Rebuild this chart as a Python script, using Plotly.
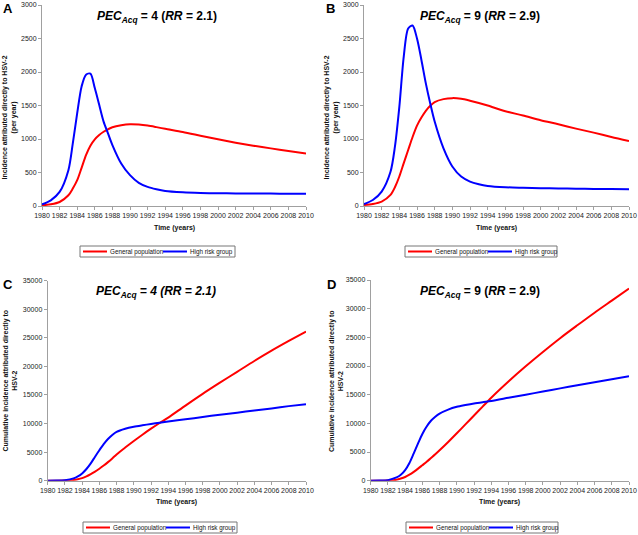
import plotly.graph_objects as go

W, H = 638, 535

years = [1980, 1981, 1982, 1983, 1983.5, 1984, 1984.5, 1985, 1985.5, 1986,
         1986.5, 1987, 1987.5, 1988, 1989, 1990, 1991, 1992, 1993, 1994,
         1996, 1998, 2000, 2002, 2004, 2006, 2008, 2010]

# A: incidence per year, PEC_Acq = 4
a_general = [10, 25, 60, 160, 260, 385, 570, 760, 900, 995, 1060, 1108, 1145, 1175,
             1205, 1220, 1215, 1200, 1177, 1152, 1105, 1050, 995, 945, 900, 860, 820, 782]
a_highrisk = [25, 85, 210, 535, 935, 1385, 1785, 1960, 1975, 1760, 1510, 1260, 1085, 910,
              635, 460, 345, 285, 250, 225, 205, 195, 190, 188, 186, 185, 184, 183]

# B: incidence per year, PEC_Acq = 9
b_general = [15, 30, 65, 165, 280, 440, 640, 835, 1030, 1200, 1320, 1420, 1495, 1550,
             1595, 1610, 1600, 1572, 1538, 1500, 1415, 1350, 1280, 1220, 1155, 1095, 1030, 970]
b_highrisk = [30, 90, 215, 510, 885, 1480, 2230, 2650, 2695, 2500, 2180, 1830, 1530, 1260,
              860, 590, 440, 365, 325, 300, 280, 272, 265, 262, 258, 255, 252, 250]

# C: cumulative incidence, PEC_Acq = 4
c_general = [0, 5, 30, 120, 250, 450, 750, 1150, 1600, 2100, 2650, 3250, 3900, 4600,
             5800, 6950, 8050, 9100, 10100, 11050, 13150, 15200, 17150, 19050, 20950,
             22750, 24450, 26100]
c_highrisk = [0, 20, 100, 400, 750, 1280, 2050, 3030, 4200, 5330, 6400, 7300, 8000, 8550,
              9100, 9450, 9700, 9920, 10150, 10370, 10750, 11150, 11550, 11900, 12300,
              12650, 13050, 13400]

# D: cumulative incidence, PEC_Acq = 9
d_general = [0, 5, 40, 180, 380, 650, 1050, 1550, 2100, 2700, 3300, 3950, 4600, 5300,
             6750, 8270, 9820, 11370, 12920, 14470, 17300, 19950, 22450, 24850, 27100,
             29300, 31400, 33500]
d_highrisk = [0, 20, 100, 580, 1050, 1860, 3100, 4770, 6500, 8150, 9450, 10450, 11150, 11700,
              12400, 12880, 13200, 13480, 13700, 13900, 14450, 15000, 15550, 16100, 16650,
              17150, 17680, 18200]

series_names = ["General population", "High risk group"]
x_ticks = list(range(1980, 2011, 2))

FONT = "Arial, Liberation Sans, sans-serif"
RED = "#ff0000"
BLUE = "#0000ff"
AXIS = "#a0a0a0"


def px_x(v):
    return v / W


def px_y(v):
    return 1 - v / H


# panel layout in pixels: (left, right, top, bottom)
panels = [
    dict(key="", box=(42, 306, 5, 206), ymax=3000, dy=500,
         data=(a_general, a_highrisk), letter="A", lpos=(8, 9),
         title="<i>PEC</i><sub><i>Acq</i></sub> = 4 (<i>RR</i> = 2.1)", tpos=(157, 17),
         ytitle="Incidence attributed directly to HSV-2<br>(per year)", ypos=(9.5, 118),
         xtitle_y=228, leg=(80, 235, 246, 257)),
    dict(key="2", box=(364, 629, 5, 206), ymax=3000, dy=500,
         data=(b_general, b_highrisk), letter="B", lpos=(330.5, 9),
         title="<i>PEC</i><sub><i>Acq</i></sub> = 9 (<i>RR</i> = 2.9)", tpos=(480, 17),
         ytitle="Incidence attributed directly to HSV-2<br>(per year)", ypos=(331.5, 118),
         xtitle_y=228, leg=(405, 557, 246, 257)),
    dict(key="3", box=(47.7, 306, 280.7, 480.7), ymax=35000, dy=5000,
         data=(c_general, c_highrisk), letter="C", lpos=(8, 284),
         title="<i>PEC</i><sub><i>Acq</i></sub><i> = 4 (RR = 2.1)</i>", tpos=(156, 292),
         ytitle="Cumulative incidence attributed directly to<br>HSV-2", ypos=(9.5, 381),
         xtitle_y=502, leg=(83, 237, 522, 533)),
    dict(key="4", box=(370.7, 629, 280, 480.7), ymax=35000, dy=5000,
         data=(d_general, d_highrisk), letter="D", lpos=(331, 284),
         title="<i>PEC</i><sub><i>Acq</i></sub> = 9 (<i>RR</i> = 2.9)", tpos=(480, 292),
         ytitle="Cumulative incidence attributed directly to<br>HSV-2", ypos=(336, 381),
         xtitle_y=502, leg=(406, 558, 522, 533)),
]

fig = go.Figure()
annotations = []
shapes = []


def note(text, x, y, size, color="black", angle=0, xanchor="center"):
    annotations.append(dict(
        text=text, x=px_x(x), y=px_y(y), xref="paper", yref="paper",
        xanchor=xanchor, yanchor="middle", showarrow=False, textangle=angle,
        font=dict(size=size, color=color),
    ))


for p in panels:
    k = p["key"]
    left, right, top, bottom = p["box"]
    for values, name, color in zip(p["data"], series_names, [RED, BLUE]):
        fig.add_trace(go.Scatter(
            x=years, y=values, name=name, mode="lines",
            line=dict(color=color, width=2, shape="spline", smoothing=0.8),
            xaxis="x" + k, yaxis="y" + k, showlegend=False,
        ))

    axis_style = dict(
        ticks="outside", ticklen=3, tickcolor=AXIS, showline=True, linecolor=AXIS,
        linewidth=1, showgrid=False, zeroline=False, automargin=False,
        tickfont=dict(size=7, color="#222"),
    )
    fig.update_layout(**{
        "xaxis" + k: dict(
            domain=[px_x(left), px_x(right)], range=[1980, 2010],
            anchor="y" + k, tickvals=x_ticks, tickangle=0, **axis_style,
        ),
        "yaxis" + k: dict(
            domain=[px_y(bottom), px_y(top)], range=[0, p["ymax"]],
            anchor="x" + k, dtick=p["dy"], tickformat="d", **axis_style,
        ),
    })

    # panel letter, title, axis titles
    note("<b>%s</b>" % p["letter"], *p["lpos"], size=13)
    note("<b>%s</b>" % p["title"], *p["tpos"], size=12)
    note("<b>%s</b>" % p["ytitle"], *p["ypos"], size=7, color="#111", angle=-90)
    note("<b>Time (years)</b>", (left + right) / 2, p["xtitle_y"], size=7, color="#111")

    # boxed legend below each panel
    lx0, lx1, ly0, ly1 = p["leg"]
    ly = (ly0 + ly1) / 2
    shapes.append(dict(
        type="rect", xref="paper", yref="paper",
        x0=px_x(lx0), x1=px_x(lx1), y0=px_y(ly1), y1=px_y(ly0),
        line=dict(color="#777", width=1), fillcolor="white", layer="below",
    ))
    for off, text_off, color, name in [(3, 28, RED, series_names[0]),
                                       (83, 108, BLUE, series_names[1])]:
        shapes.append(dict(
            type="line", xref="paper", yref="paper",
            x0=px_x(lx0 + off), x1=px_x(lx0 + off + 24), y0=px_y(ly), y1=px_y(ly),
            line=dict(color=color, width=2),
        ))
        note(name, lx0 + text_off, ly, size=6.3, color="#111", xanchor="left")

fig.update_layout(
    width=W, height=H, margin=dict(l=0, r=0, t=0, b=0),
    paper_bgcolor="white", plot_bgcolor="white",
    font=dict(family=FONT), annotations=annotations, shapes=shapes,
)

# the page body has a default 8px margin that would shift the figure
fig.write_html(
    "out.html",
    config={"displayModeBar": False},
    post_script="document.body.style.margin = '0';",
)
